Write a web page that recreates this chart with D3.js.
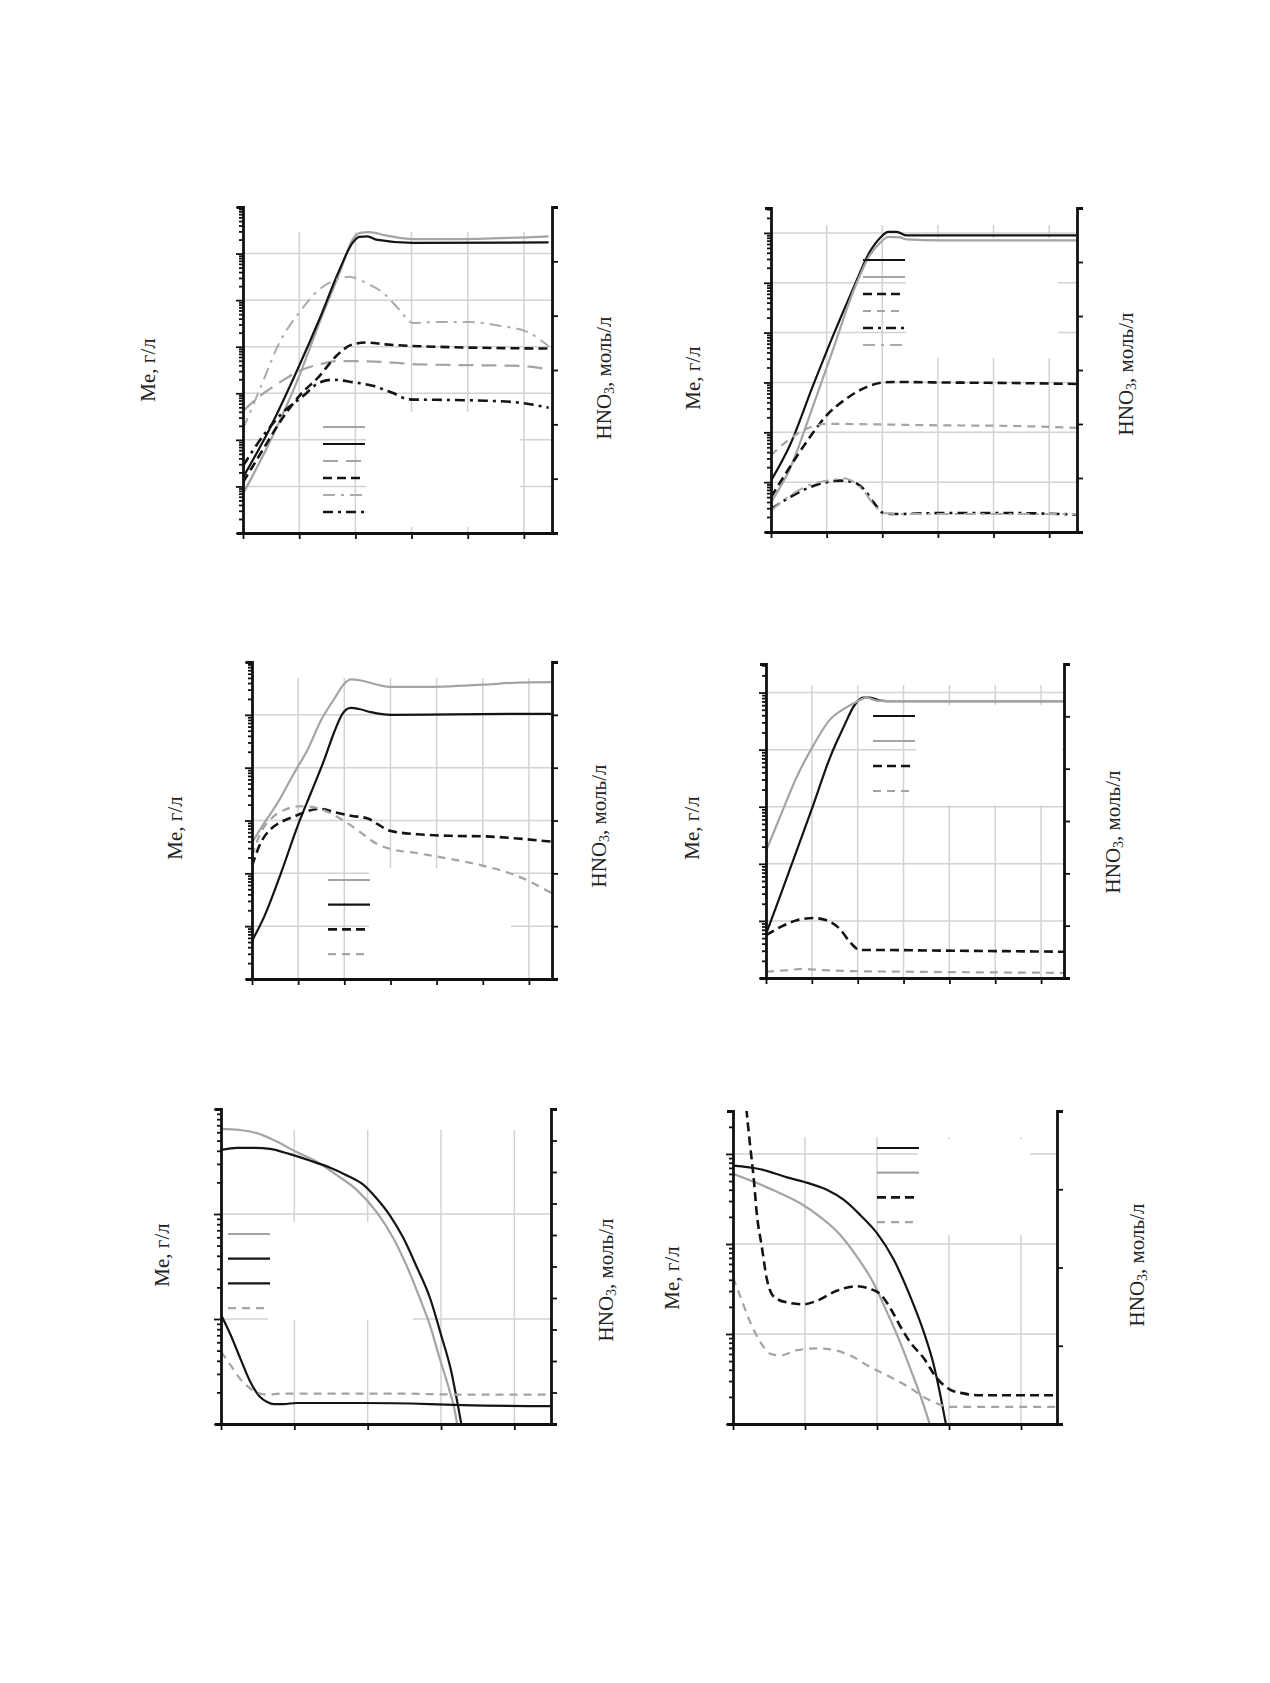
<!DOCTYPE html>
<html>
<head>
<meta charset="utf-8">
<script src="https://cdn.jsdelivr.net/npm/d3@7"></script>
<style>
  body { margin: 0; background: #fff; }
  .lab { font-family: "Liberation Serif", "DejaVu Serif", serif; font-size: 21px; fill: #222; }
</style>
</head>
<body>
<svg id="fig" width="1270" height="1683"></svg>
<script>
// Every series: [x, lg(Me, г/л)], x in axis units (ticks at 0,1,2...)

// panel 1 (top left)
const p1GraySolid = [[0,-3.16],[0.47,-2.06],[1.0,-0.63],[1.36,0.51],[1.72,1.59],[1.95,2.3],[2.07,2.44],[2.25,2.46],[2.54,2.39],[3.02,2.31],[3.73,2.31],[5.44,2.37]];
const p1BlackSolid = [[0,-2.81],[0.47,-1.77],[1.0,-0.41],[1.36,0.59],[1.72,1.66],[1.95,2.23],[2.07,2.36],[2.22,2.37],[2.37,2.3],[3.02,2.23],[5.44,2.24]];
const p1GrayLong = [[0,-1.38],[0.3,-1.06],[0.65,-0.77],[1.0,-0.52],[1.36,-0.38],[1.66,-0.31],[1.95,-0.31],[2.54,-0.33],[3.14,-0.38],[4.32,-0.4],[4.91,-0.41],[5.44,-0.49]];
const p1BlackDash = [[0,-2.91],[0.36,-2.2],[0.65,-1.63],[1.0,-1.06],[1.36,-0.63],[1.66,-0.2],[1.95,0.05],[2.19,0.09],[2.54,0.05],[3.14,0.01],[5.44,-0.04]];
const p1GrayDashDot = [[0,-1.77],[0.3,-0.91],[0.65,0.09],[1.0,0.73],[1.36,1.23],[1.66,1.44],[1.89,1.5],[2.19,1.37],[2.49,1.16],[2.78,0.8],[3.02,0.51],[3.43,0.53],[4.02,0.53],[4.62,0.44],[5.09,0.3],[5.44,0.01]];
const p1BlackDashDot = [[0,-2.56],[0.36,-1.91],[0.71,-1.41],[1.07,-1.06],[1.36,-0.77],[1.6,-0.71],[1.95,-0.76],[2.31,-0.84],[2.66,-0.99],[2.96,-1.13],[3.43,-1.14],[4.32,-1.16],[4.91,-1.2],[5.44,-1.31]];

// panel 2 (top right)
const p2BlackSolid = [[0,-2.97],[0.34,-2.26],[0.76,-1.05],[1.12,-0.05],[1.48,0.89],[1.78,1.63],[1.96,1.9],[2.11,2.02],[2.26,2.02],[2.44,1.95],[3.04,1.95],[5.49,1.95]];
const p2GraySolid = [[0,-3.4],[0.34,-2.73],[0.76,-1.46],[1.12,-0.32],[1.48,0.83],[1.78,1.56],[1.96,1.8],[2.11,1.92],[2.32,1.91],[2.44,1.87],[3.04,1.85],[5.49,1.85]];
const p2BlackDash = [[0,-3.3],[0.28,-2.8],[0.64,-2.19],[1.0,-1.66],[1.36,-1.32],[1.72,-1.09],[2.02,-1.0],[2.2,-0.99],[3.04,-1.0],[4.23,-1.01],[5.49,-1.03]];
const p2GrayDash = [[0,-2.46],[0.34,-2.13],[0.64,-1.93],[1.0,-1.83],[1.84,-1.84],[3.04,-1.86],[4.23,-1.87],[5.49,-1.91]];
const p2BlackDashDot = [[0,-3.54],[0.34,-3.3],[0.64,-3.13],[1.0,-3.0],[1.24,-2.97],[1.48,-3.0],[1.66,-3.13],[1.84,-3.4],[2.02,-3.62],[2.2,-3.64],[3.04,-3.62],[4.23,-3.62],[5.49,-3.65]];
const p2GrayDashDot = [[0,-3.57],[0.34,-3.27],[0.76,-3.03],[1.12,-2.95],[1.3,-2.92],[1.48,-2.99],[1.66,-3.17],[1.84,-3.44],[2.02,-3.62],[2.32,-3.64],[5.49,-3.64]];

// panel 3 (middle left)
const p3GraySolid = [[0,-0.42],[0.27,-0.04],[0.56,0.34],[0.92,0.91],[1.21,1.35],[1.49,1.89],[1.78,2.3],[2.0,2.59],[2.14,2.67],[2.36,2.65],[2.72,2.57],[3.01,2.53],[3.59,2.53],[4.31,2.54],[5.03,2.57],[5.75,2.61],[6.48,2.62]];
const p3BlackSolid = [[0,-2.28],[0.27,-1.81],[0.63,-0.99],[0.99,-0.1],[1.28,0.53],[1.57,1.16],[1.78,1.67],[1.96,2.02],[2.14,2.13],[2.32,2.11],[2.58,2.05],[3.01,2.0],[4.31,2.01],[6.48,2.02]];
const p3BlackDash = [[0,-0.86],[0.19,-0.42],[0.41,-0.16],[0.63,-0.03],[0.92,0.08],[1.21,0.18],[1.49,0.22],[1.78,0.16],[2.14,0.09],[2.51,0.04],[2.72,-0.07],[3.01,-0.2],[3.59,-0.26],[4.31,-0.29],[5.03,-0.3],[5.75,-0.34],[6.48,-0.4]];
const p3GrayDash = [[0,-0.67],[0.19,-0.23],[0.41,0.03],[0.7,0.2],[1.06,0.27],[1.35,0.25],[1.64,0.16],[2.0,-0.01],[2.36,-0.23],[2.72,-0.45],[3.01,-0.54],[3.59,-0.62],[4.31,-0.73],[5.03,-0.86],[5.75,-1.05],[6.48,-1.37]];

// panel 4 (middle right)
const p4BlackSolid = [[0,-2.23],[0.31,-1.56],[0.6,-0.92],[1.03,0.03],[1.4,0.87],[1.69,1.39],[1.94,1.79],[2.12,1.91],[2.27,1.91],[2.49,1.86],[2.78,1.85],[6.5,1.85]];
const p4GraySolid = [[0,-0.78],[0.31,-0.17],[0.67,0.52],[1.03,1.07],[1.4,1.53],[1.69,1.71],[1.98,1.84],[2.2,1.91],[2.41,1.86],[2.78,1.85],[6.5,1.85]];
const p4BlackDash = [[0,-2.25],[0.31,-2.11],[0.67,-1.99],[1.03,-1.95],[1.32,-1.99],[1.61,-2.14],[1.83,-2.37],[2.05,-2.51],[2.49,-2.51],[3.8,-2.52],[5.25,-2.53],[6.5,-2.54]];
const p4GrayDash = [[0,-2.89],[0.52,-2.86],[0.81,-2.84],[1.18,-2.86],[1.91,-2.88],[3.07,-2.89],[4.52,-2.9],[6.5,-2.91]];

// panel 5 (bottom left)
const p5GraySolid = [[0,1.81],[0.26,1.8],[0.49,1.77],[0.76,1.69],[1.03,1.59],[1.3,1.5],[1.58,1.37],[1.85,1.23],[2.12,1.02],[2.35,0.77],[2.53,0.51],[2.71,0.2],[2.85,-0.06],[2.98,-0.37],[3.12,-0.69],[3.19,-0.88],[3.25,-1.14]];
const p5BlackSolid = [[0,1.61],[0.22,1.63],[0.47,1.63],[0.67,1.62],[0.94,1.57],[1.21,1.51],[1.49,1.44],[1.71,1.37],[1.94,1.28],[2.12,1.15],[2.3,0.99],[2.48,0.78],[2.66,0.51],[2.85,0.2],[3.0,-0.15],[3.14,-0.5],[3.23,-0.82],[3.28,-1.01],[3.32,-1.17]];
const p5BlackLow = [[0,0.04],[0.13,-0.15],[0.26,-0.37],[0.4,-0.6],[0.53,-0.74],[0.63,-0.79],[0.72,-0.81],[0.85,-0.81],[1.03,-0.8],[1.94,-0.8],[2.85,-0.81],[3.3,-0.82],[4.49,-0.83]];
const p5GrayDash = [[0,-0.31],[0.13,-0.44],[0.26,-0.57],[0.44,-0.68],[0.63,-0.72],[0.81,-0.71],[1.49,-0.71],[2.39,-0.71],[3.3,-0.72],[4.49,-0.72]];

// panel 6 (bottom right)
const p6BlackSolid = [[0,0.87],[0.38,0.83],[0.75,0.74],[1.07,0.67],[1.31,0.6],[1.54,0.49],[1.77,0.32],[2.0,0.12],[2.23,-0.17],[2.46,-0.58],[2.65,-0.98],[2.79,-1.35],[2.88,-1.68],[2.95,-1.97],[3.0,-2.15]];
const p6GraySolid = [[0,0.78],[0.29,0.69],[0.61,0.58],[0.94,0.45],[1.21,0.3],[1.49,0.1],[1.72,-0.14],[1.95,-0.43],[2.14,-0.76],[2.32,-1.09],[2.46,-1.38],[2.6,-1.68],[2.72,-1.97],[2.79,-2.15]];
const p6BlackDash = [[0.17,1.66],[0.19,1.47],[0.24,1.08],[0.29,0.71],[0.33,0.34],[0.4,-0.03],[0.47,-0.39],[0.56,-0.58],[0.75,-0.65],[0.98,-0.67],[1.17,-0.63],[1.44,-0.52],[1.72,-0.47],[1.91,-0.5],[2.05,-0.56],[2.19,-0.72],[2.32,-0.91],[2.46,-1.09],[2.65,-1.27],[2.83,-1.49],[3.02,-1.62],[3.2,-1.66],[3.39,-1.68],[3.85,-1.68],[4.5,-1.68]];
const p6GrayDash = [[0,-0.37],[0.1,-0.58],[0.24,-0.87],[0.38,-1.09],[0.52,-1.22],[0.66,-1.24],[0.89,-1.18],[1.17,-1.16],[1.35,-1.17],[1.63,-1.24],[1.91,-1.37],[2.19,-1.48],[2.46,-1.6],[2.65,-1.7],[2.83,-1.77],[3.02,-1.81],[3.39,-1.81],[4.5,-1.81]];

// axis extents
const xMaxes = [5.5, 5.5, 6.5, 6.5, 4.5, 4.5];
const meDomains = [[1e-4, 1e3], [1e-4, Math.pow(10, 2.5)], [1e-3, 1e3], [1e-3, Math.pow(10, 2.5)], [0.1, 100], [0.01, 30]];
const hno3Intervals = [6, 6, 6, 6, 10, 4];

const meLabel = "Me, г/л";

const styles = {
    graySolid:    {c: "#a4a4a4", w: 2.2, d: null},
    blackSolid:   {c: "#141414", w: 2.2, d: null},
    grayLong:     {c: "#a4a4a4", w: 2.2, d: "15,8"},
    blackDash:    {c: "#141414", w: 2.6, d: "9,5"},
    grayDash:     {c: "#a4a4a4", w: 2.2, d: "8,6"},
    grayDashDot:  {c: "#ababab", w: 2.0, d: "12,6,3,6"},
    blackDashDot: {c: "#141414", w: 2.6, d: "10,5,3,5"}
};

const series = [
    [[p1GraySolid, "graySolid"], [p1BlackSolid, "blackSolid"], [p1GrayLong, "grayLong"], [p1BlackDash, "blackDash"], [p1GrayDashDot, "grayDashDot"], [p1BlackDashDot, "blackDashDot"]],
    [[p2BlackSolid, "blackSolid"], [p2GraySolid, "graySolid"], [p2BlackDash, "blackDash"], [p2GrayDash, "grayDash"], [p2BlackDashDot, "blackDashDot"], [p2GrayDashDot, "grayDashDot"]],
    [[p3GraySolid, "graySolid"], [p3BlackSolid, "blackSolid"], [p3BlackDash, "blackDash"], [p3GrayDash, "grayDash"]],
    [[p4BlackSolid, "blackSolid"], [p4GraySolid, "graySolid"], [p4BlackDash, "blackDash"], [p4GrayDash, "grayDash"]],
    [[p5GraySolid, "graySolid"], [p5BlackSolid, "blackSolid"], [p5BlackLow, "blackSolid"], [p5GrayDash, "grayDash"]],
    [[p6BlackSolid, "blackSolid"], [p6GraySolid, "graySolid"], [p6BlackDash, "blackDash"], [p6GrayDash, "grayDash"]]
];

// page layout of the six frames (pixels)
const frames = [
    {left: 243, right: 552, top: 207, bottom: 533, gridTop: 232, meX: 148, meY: 370, hX: 604, hY: 378, legX: 323, legY: 427, legStep: 17, box: [366, 412, 154, 115]},
    {left: 771, right: 1077, top: 208, bottom: 532, gridTop: 225, meX: 693, meY: 378, hX: 1126, hY: 374, legX: 863, legY: 260, legStep: 17, box: [906, 238, 152, 120]},
    {left: 252, right: 552, top: 662, bottom: 979, gridTop: 678, meX: 175, meY: 828, hX: 599, hY: 826, legX: 328, legY: 880, legStep: 24.7, box: [369, 868, 142, 110]},
    {left: 766, right: 1064, top: 664, bottom: 978, gridTop: 685, meX: 692, meY: 828, hX: 1113, hY: 832, legX: 873, legY: 716, legStep: 25, box: [916, 705, 146, 100]},
    {left: 221, right: 551, top: 1109, bottom: 1424, gridTop: 1130, meX: 162, meY: 1255, hX: 606, hY: 1280, legX: 228, legY: 1234, legStep: 24.7, box: [268, 1222, 145, 98]},
    {left: 733, right: 1057, top: 1111, bottom: 1424, gridTop: 1137, meX: 672, meY: 1278, hX: 1137, hY: 1265, legX: 877, legY: 1148, legStep: 24.7, box: [918, 1139, 112, 96]}
];

const svg = d3.select("#fig");

function logTicks(dom) {
    const out = [];
    const lo = Math.floor(Math.log10(dom[0])), hi = Math.ceil(Math.log10(dom[1]));
    for (let e = lo; e <= hi; e++) {
        for (let k = 1; k <= 9; k++) {
            const v = k * Math.pow(10, e);
            if (v >= dom[0] * 0.999 && v <= dom[1] * 1.001) out.push(v);
        }
    }
    return out;
}

function dressAxis(g) {
    g.select(".domain").attr("stroke", "#111").attr("stroke-width", 2.8);
    g.selectAll(".tick line").attr("stroke", "#111").attr("stroke-width", 1.8);
}

function drawPanel(i) {
    const f = frames[i];
    const x = d3.scaleLinear().domain([0, xMaxes[i]]).range([f.left, f.right]);
    const y = d3.scaleLog().domain(meDomains[i]).range([f.bottom, f.top]);
    const yr = d3.scaleLinear().domain([0, hno3Intervals[i]]).range([f.bottom, f.top]);
    const g = svg.append("g");

    // grid
    const lo = Math.log10(meDomains[i][0]), hi = Math.log10(meDomains[i][1]);
    const decades = d3.range(Math.floor(lo) + 1, Math.ceil(hi)).map(e => Math.pow(10, e));
    g.selectAll("line.hg").data(decades).enter().append("line")
        .attr("x1", f.left).attr("x2", f.right)
        .attr("y1", d => y(d)).attr("y2", d => y(d))
        .attr("stroke", "#d2d2d2").attr("stroke-width", 1.5);
    g.selectAll("line.vg").data(d3.range(1, Math.floor(xMaxes[i]) + 1)).enter().append("line")
        .attr("x1", d => x(d)).attr("x2", d => x(d))
        .attr("y1", f.gridTop).attr("y2", f.bottom)
        .attr("stroke", "#d2d2d2").attr("stroke-width", 1.5);

    // blank legend text area
    g.append("rect").attr("x", f.box[0]).attr("y", f.box[1])
        .attr("width", f.box[2]).attr("height", f.box[3]).attr("fill", "#fff");

    // curves
    const clipId = "clip" + i;
    svg.append("clipPath").attr("id", clipId).append("rect")
        .attr("x", f.left).attr("y", f.top)
        .attr("width", f.right - f.left).attr("height", f.bottom - f.top);
    const line = d3.line()
        .x(d => x(d[0]))
        .y(d => y(Math.pow(10, d[1])))
        .curve(d3.curveMonotoneX);
    const cg = g.append("g").attr("clip-path", `url(#${clipId})`);
    series[i].forEach(([data, key]) => {
        const s = styles[key];
        cg.append("path").attr("d", line(data))
            .attr("fill", "none").attr("stroke", s.c).attr("stroke-width", s.w)
            .attr("stroke-dasharray", s.d).attr("stroke-linejoin", "round");
    });

    // legend samples (labels blank in the source)
    series[i].forEach(([data, key], k) => {
        const s = styles[key];
        const ly = f.legY + k * f.legStep;
        g.append("line").attr("x1", f.legX).attr("x2", f.legX + 42)
            .attr("y1", ly).attr("y2", ly)
            .attr("stroke", s.c).attr("stroke-width", s.w).attr("stroke-dasharray", s.d);
    });

    // axes
    const ax = g.append("g").attr("transform", `translate(${f.left},0)`)
        .call(d3.axisLeft(y).tickValues(logTicks(meDomains[i])).tickSize(4).tickSizeOuter(6).tickFormat(""));
    ax.selectAll(".tick line")
        .filter(d => Math.abs(Math.log10(d) - Math.round(Math.log10(d))) < 1e-6)
        .attr("x2", -7);
    dressAxis(ax);

    const bx = g.append("g").attr("transform", `translate(0,${f.bottom})`)
        .call(d3.axisBottom(x).tickValues(d3.range(0, Math.floor(xMaxes[i]) + 1)).tickSize(6).tickSizeOuter(0).tickFormat(""));
    dressAxis(bx);

    const rx = g.append("g").attr("transform", `translate(${f.right},0)`)
        .call(d3.axisRight(yr).ticks(hno3Intervals[i]).tickSize(6).tickSizeOuter(6).tickFormat(""));
    dressAxis(rx);

    // axis titles
    g.append("text").attr("class", "lab")
        .attr("transform", `translate(${f.meX},${f.meY}) rotate(-90)`)
        .attr("text-anchor", "middle").attr("dominant-baseline", "central")
        .text(meLabel);
    const h = g.append("text").attr("class", "lab")
        .attr("transform", `translate(${f.hX},${f.hY}) rotate(-90)`)
        .attr("text-anchor", "middle").attr("dominant-baseline", "central");
    h.append("tspan").text("HNO");
    h.append("tspan").attr("font-size", "14px").attr("dy", 5).text("3");
    h.append("tspan").attr("dy", -5).text(", моль/л");
}

d3.range(frames.length).forEach(drawPanel);
</script>
</body>
</html>
